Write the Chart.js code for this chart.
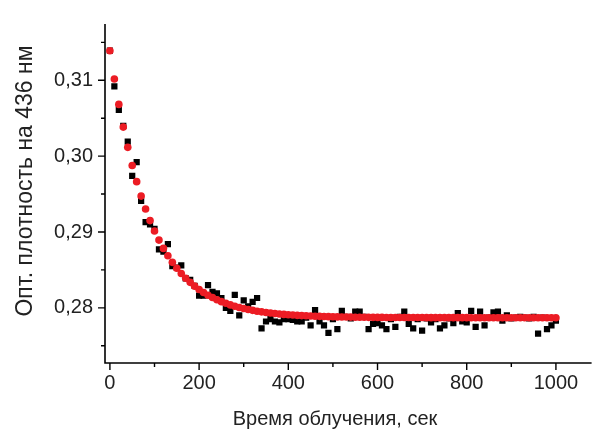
<!DOCTYPE html>
<html lang="ru">
<head>
    <meta charset="UTF-8">
    <title>Оптическая плотность при облучении</title>
    <style>
        body {
            margin: 0;
            padding: 0;
            background: #ffffff;
        }
        canvas {
            display: block;
        }
    </style>
    <script src="https://cdn.jsdelivr.net/npm/chart.js"></script>
</head>
<body>
    <canvas id="decayChart" width="596" height="429"></canvas>

    <script>
        // irradiation time, s (same grid for measurement and fit)
        const times = [
            0, 10, 20, 30, 40, 50, 60, 70, 80, 90,
            100, 110, 120, 130, 140, 150, 160, 170, 180, 190,
            200, 210, 220, 230, 240, 250, 260, 270, 280, 290,
            300, 310, 320, 330, 340, 350, 360, 370, 380, 390,
            400, 410, 420, 430, 440, 450, 460, 470, 480, 490,
            500, 510, 520, 530, 540, 550, 560, 570, 580, 590,
            600, 610, 620, 630, 640, 650, 660, 670, 680, 690,
            700, 710, 720, 730, 740, 750, 760, 770, 780, 790,
            800, 810, 820, 830, 840, 850, 860, 870, 880, 890,
            900, 910, 920, 930, 940, 950, 960, 970, 980, 990,
            1000
        ];

        // measured optical density at 436 nm
        const measured = [
            0.3139, 0.3092, 0.3061, 0.3040, 0.3019, 0.2974, 0.2992, 0.2941, 0.2913, 0.2910,
            0.2904, 0.2877, 0.2874, 0.2884, 0.2855, 0.2853, 0.2856, 0.2839, 0.2837, 0.2829,
            0.2816, 0.2816, 0.2830, 0.2821, 0.2819, 0.2813, 0.2800, 0.2796, 0.2817, 0.2790,
            0.2810, 0.2802, 0.2808, 0.2813, 0.2773, 0.2782, 0.2785, 0.2782, 0.2781, 0.2785,
            0.2785, 0.2784, 0.2782, 0.2782, 0.2787, 0.2777, 0.2797, 0.2782, 0.2777, 0.2767,
            0.2785, 0.2772, 0.2796, 0.2788, 0.2786, 0.2795, 0.2795, 0.2788, 0.2772, 0.2779,
            0.2780, 0.2777, 0.2772, 0.2785, 0.2775, 0.2788, 0.2795, 0.2779, 0.2773, 0.2785,
            0.2770, 0.2786, 0.2781, 0.2785, 0.2773, 0.2777, 0.2786, 0.2780, 0.2793, 0.2782,
            0.2781, 0.2796, 0.2775, 0.2795, 0.2777, 0.2787, 0.2794, 0.2795, 0.2783, 0.2790,
            0.2786, 0.2787, 0.2788, 0.2787, 0.2786, 0.2788, 0.2766, 0.2787, 0.2772, 0.2777,
            0.2783
        ];

        // exponential fit
        const fitted = [
            0.31390, 0.31016, 0.30682, 0.30383, 0.30116, 0.29877, 0.29664, 0.29473, 0.29303, 0.29150,
            0.29014, 0.28893, 0.28784, 0.28687, 0.28600, 0.28522, 0.28453, 0.28391, 0.28336, 0.28286,
            0.28242, 0.28202, 0.28167, 0.28136, 0.28107, 0.28082, 0.28060, 0.28039, 0.28021, 0.28005,
            0.27991, 0.27978, 0.27967, 0.27956, 0.27947, 0.27939, 0.27932, 0.27925, 0.27919, 0.27914,
            0.27909, 0.27905, 0.27901, 0.27898, 0.27895, 0.27892, 0.27890, 0.27888, 0.27886, 0.27884,
            0.27883, 0.27881, 0.27880, 0.27879, 0.27878, 0.27877, 0.27877, 0.27876, 0.27875, 0.27875,
            0.27874, 0.27874, 0.27873, 0.27873, 0.27873, 0.27872, 0.27872, 0.27872, 0.27872, 0.27872,
            0.27872, 0.27871, 0.27871, 0.27871, 0.27871, 0.27871, 0.27871, 0.27871, 0.27871, 0.27871,
            0.27871, 0.27870, 0.27870, 0.27870, 0.27870, 0.27870, 0.27870, 0.27870, 0.27870, 0.27870,
            0.27870, 0.27870, 0.27870, 0.27870, 0.27870, 0.27870, 0.27870, 0.27870, 0.27870, 0.27870,
            0.27870
        ];

        const xMajor = [0, 200, 400, 600, 800, 1000];
        const xMinor = [100, 300, 500, 700, 900];
        const yMajor = [0.28, 0.29, 0.30, 0.31];
        const yMinor = [0.275, 0.285, 0.295, 0.305, 0.315];

        const xTitle = 'Время облучения, сек';
        const yTitle = 'Опт. плотность на 436 нм';

        const FONT = 'Arial, "Liberation Sans", sans-serif';

        function isMajor(list, v) {
            return list.some(m => Math.abs(m - v) < 1e-9);
        }

        // axis lines, outward ticks (major long, minor short) and titles
        const frame = {
            id: 'frame',
            afterDraw(chart) {
                const ctx = chart.ctx;
                const area = chart.chartArea;
                const xs = chart.scales.x;
                const ys = chart.scales.y;
                ctx.save();
                ctx.strokeStyle = '#000';
                ctx.lineWidth = 1.6;
                ctx.beginPath();
                ctx.moveTo(area.left, area.top);
                ctx.lineTo(area.left, area.bottom);
                ctx.lineTo(area.right, area.bottom);
                ctx.stroke();

                ctx.lineWidth = 1.4;
                ctx.beginPath();
                xs.ticks.forEach(t => {
                    const px = xs.getPixelForValue(t.value);
                    const len = isMajor(xMajor, t.value) ? 7 : 4;
                    ctx.moveTo(px, area.bottom);
                    ctx.lineTo(px, area.bottom + len);
                });
                ys.ticks.forEach(t => {
                    const py = ys.getPixelForValue(t.value);
                    const len = isMajor(yMajor, t.value) ? 7 : 4;
                    ctx.moveTo(area.left, py);
                    ctx.lineTo(area.left - len, py);
                });
                ctx.stroke();

                ctx.fillStyle = '#222';
                ctx.textAlign = 'center';
                ctx.textBaseline = 'alphabetic';
                ctx.font = '20px ' + FONT;
                ctx.fillText(xTitle, 335, 425);

                ctx.font = '23px ' + FONT;
                ctx.translate(32, 181);
                ctx.rotate(-Math.PI / 2);
                ctx.fillText(yTitle, 0, 0);
                ctx.restore();
            }
        };

        const ctx = document.getElementById('decayChart').getContext('2d');

        new Chart(ctx, {
            type: 'scatter',
            data: {
                datasets: [
                    {
                        label: 'fit',
                        data: times.map((t, i) => ({ x: t, y: fitted[i] })),
                        backgroundColor: '#ec1c24',
                        borderWidth: 0,
                        pointStyle: 'circle',
                        pointRadius: 3.8
                    },
                    {
                        label: 'measured',
                        data: times.map((t, i) => ({ x: t, y: measured[i] })),
                        backgroundColor: '#000000',
                        borderWidth: 0,
                        pointStyle: 'rect',
                        pointRadius: 4.4
                    }
                ]
            },
            options: {
                responsive: false,
                animation: false,
                layout: {
                    padding: { top: 17, right: 0, bottom: 0, left: 0 }
                },
                plugins: {
                    legend: { display: false },
                    tooltip: { enabled: false }
                },
                scales: {
                    x: {
                        type: 'linear',
                        min: -11,
                        max: 1080,
                        grid: { display: false, drawTicks: false },
                        border: { display: false },
                        afterBuildTicks(scale) {
                            scale.ticks = xMajor.concat(xMinor).sort((a, b) => a - b).map(v => ({ value: v }));
                        },
                        afterFit(scale) {
                            scale.height = 66;
                        },
                        ticks: {
                            autoSkip: false,
                            maxRotation: 0,
                            padding: 8,
                            color: '#222',
                            font: { family: FONT, size: 20 },
                            callback: v => isMajor(xMajor, v) ? String(v) : ''
                        }
                    },
                    y: {
                        type: 'linear',
                        min: 0.27273,
                        max: 0.31742,
                        grid: { display: false, drawTicks: false },
                        border: { display: false },
                        afterBuildTicks(scale) {
                            scale.ticks = yMajor.concat(yMinor).sort((a, b) => a - b).map(v => ({ value: v }));
                        },
                        afterFit(scale) {
                            scale.width = 105;
                        },
                        ticks: {
                            autoSkip: false,
                            padding: 12,
                            color: '#222',
                            font: { family: FONT, size: 20 },
                            callback: v => isMajor(yMajor, v) ? v.toFixed(2).replace('.', ',') : ''
                        }
                    }
                }
            },
            plugins: [frame]
        });
    </script>
</body>
</html>
